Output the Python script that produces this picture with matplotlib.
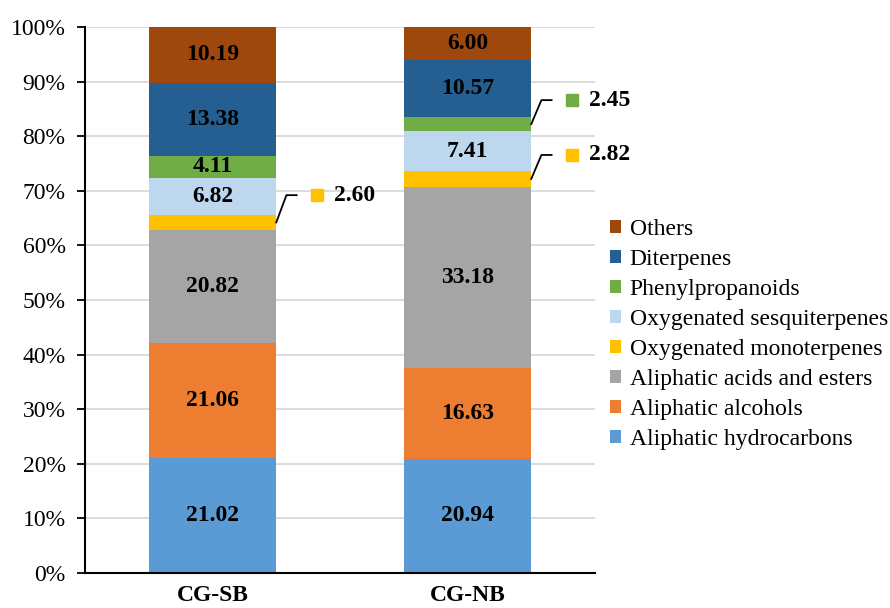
import matplotlib.pyplot as plt
import numpy as np

plt.rcParams['font.family'] = ['Liberation Serif', 'DejaVu Serif']

samples = ['CG-SB', 'CG-NB']
classes = ['Aliphatic hydrocarbons', 'Aliphatic alcohols', 'Aliphatic acids and esters',
           'Oxygenated monoterpenes', 'Oxygenated sesquiterpenes', 'Phenylpropanoids',
           'Diterpenes', 'Others']
sb_values = [21.02, 21.06, 20.82, 2.60, 6.82, 4.11, 13.38, 10.19]
nb_values = [20.94, 16.63, 33.18, 2.82, 7.41, 2.45, 10.57, 6.00]
colors = ['#5B9BD5', '#ED7D31', '#A5A5A5', '#FFC000', '#BDD7EE', '#70AD47', '#255E91', '#9E480E']
# segments whose labels sit outside the bar, as (sample index, class index)
callouts = [(0, 3), (1, 3), (1, 5)]

data = np.array([sb_values, nb_values])
x = np.arange(len(samples))
w = 0.5

fig = plt.figure(figsize=(8.9, 6.08), dpi=100)
ax = fig.add_axes([0.0955, 0.0576, 0.573, 0.898])

bottom = np.zeros(len(samples))
for j, name in enumerate(classes):
    vals = data[:, j]
    ax.bar(x, vals, w, bottom=bottom, color=colors[j], label=name, zorder=2)
    for i in range(len(samples)):
        if (i, j) in callouts:
            continue
        ax.text(x[i], bottom[i] + vals[i] / 2, f'{vals[i]:.2f}', ha='center', va='center',
                fontsize=17, fontweight='bold', color='black', zorder=3)
    bottom += vals

cum = np.cumsum(data, axis=1)
for i, j in callouts:
    v = data[i, j]
    mid = cum[i, j] - v / 2
    x0 = x[i] + w / 2
    dy = 5.0 if i == 0 else 4.4
    ax.plot([x0, x0 + 0.04, x0 + 0.08], [mid, mid + dy, mid + dy], color='black', lw=1.3,
            clip_on=False, zorder=3)
    ax.plot([x0 + 0.16], [mid + dy], marker='s', ms=9, color=colors[j], clip_on=False,
            zorder=3)
    ax.text(x0 + 0.225, mid + dy, f'{v:.2f}', ha='left', va='center', fontsize=17,
            fontweight='bold', color='black')

ax.set_xlim(-0.5, 1.5)
ax.set_ylim(0, 100)
ax.set_yticks(np.arange(0, 101, 10))
ax.set_yticklabels([f'{t}%' for t in range(0, 101, 10)], fontsize=17)
ax.set_xticks(x)
ax.set_xticklabels(samples, fontsize=17, fontweight='bold')
ax.tick_params(axis='x', length=0, pad=9)
ax.tick_params(axis='y', length=6, width=1.3, direction='out', pad=8)
ax.yaxis.grid(True, color='#D9D9D9', lw=1.3, zorder=0)
ax.set_axisbelow(True)
for s in ['top', 'right']:
    ax.spines[s].set_visible(False)
for s in ['left', 'bottom']:
    ax.spines[s].set_linewidth(1.5)

handles, labels = ax.get_legend_handles_labels()
fig.legend(handles[::-1], labels[::-1], loc='center left', bbox_to_anchor=(0.685, 0.45),
           frameon=False, fontsize=17, handlelength=0.5, handleheight=0.5,
           handletextpad=0.35, labelspacing=0.38, borderpad=0, borderaxespad=0)

fig.savefig('out.png', dpi=100)
